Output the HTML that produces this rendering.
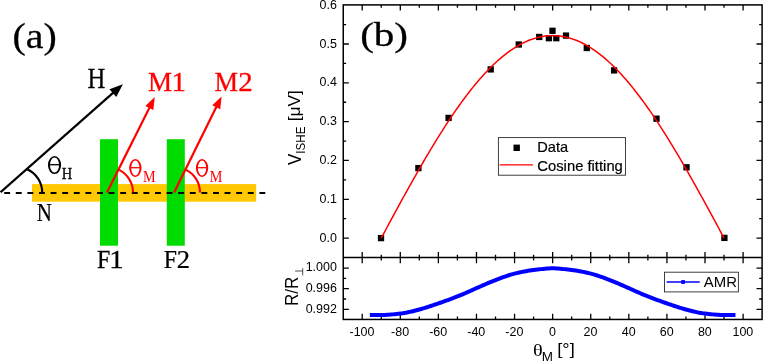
<!DOCTYPE html>
<html><head><meta charset="utf-8"><title>figure</title>
<style>html,body{margin:0;padding:0;background:#fff;}body{width:763px;height:361px;overflow:hidden;}svg{display:block;will-change:transform;}.s{font-family:"Liberation Sans",sans-serif;}.r{font-family:"Liberation Serif",serif;}</style></head><body>
<svg width="763" height="361" viewBox="0 0 763 361">
<rect x="0" y="0" width="763" height="361" fill="#fff"/>
<g id="pa">
<rect x="32" y="184.1" width="224.2" height="17.6" fill="#FFC800"/>
<rect x="100" y="139.2" width="18" height="106.5" fill="#00DC00"/>
<rect x="166.8" y="139.2" width="18" height="106.5" fill="#00DC00"/>
<line x1="4.2" y1="193.0" x2="265.4" y2="193.0" stroke="#000" stroke-width="2" stroke-dasharray="5.9 5.7"/>
<line x1="0.60" y1="192.10" x2="113.60" y2="92.40" stroke="#000" stroke-width="2.2"/><polygon points="122.90,84.20 116.26,96.93 109.44,89.20" fill="#000"/>
<line x1="107.00" y1="192.50" x2="149.78" y2="107.03" stroke="#FF0000" stroke-width="2.2"/><polygon points="154.75,97.10 153.31,109.91 145.35,105.93" fill="#FF0000"/>
<line x1="174.10" y1="192.50" x2="216.68" y2="106.35" stroke="#FF0000" stroke-width="2.2"/><polygon points="221.60,96.40 220.23,109.22 212.25,105.28" fill="#FF0000"/>
<path d="M42.20,192.50 A25.4,25.4 0 0 0 27.13,169.30" fill="none" stroke="#000" stroke-width="2.1"/>
<path d="M133.00,192.50 A25.4,25.4 0 0 0 119.13,169.87" fill="none" stroke="#FF0000" stroke-width="2.2"/>
<path d="M200.00,192.50 A25.4,25.4 0 0 0 186.13,169.87" fill="none" stroke="#FF0000" stroke-width="2.2"/>
<text class="r" transform="translate(12.50,47.56) scale(1.090,1)" font-size="36.61" fill="#000"  stroke="#000" stroke-width="0.3">(a)</text>
<text class="r" transform="translate(87.41,87.97) scale(0.860,1)" font-size="28.79" fill="#000"  stroke="#000" stroke-width="0.25">H</text>
<text class="r" transform="translate(147.97,91.45) scale(0.985,1)" font-size="27.49" fill="#FF0000"  stroke="#FF0000" stroke-width="0.3">M</text>
<text class="r" transform="translate(171.40,91.45) scale(1.063,1)" font-size="27.27" fill="#FF0000"  stroke="#FF0000" stroke-width="0.3">1</text>
<text class="r" transform="translate(214.59,91.45) scale(0.963,1)" font-size="27.49" fill="#FF0000"  stroke="#FF0000" stroke-width="0.3">M</text>
<text class="r" transform="translate(238.28,91.45) scale(1.064,1)" font-size="27.19" fill="#FF0000"  stroke="#FF0000" stroke-width="0.3">2</text>
<text class="r" transform="translate(36.72,220.68) scale(0.819,1)" font-size="25.58" fill="#000"  stroke="#000" stroke-width="0.25">N</text>
<text class="r" transform="translate(96.94,267.68) scale(0.952,1)" font-size="25.12" fill="#000"  stroke="#000" stroke-width="0.25">F</text>
<text class="r" transform="translate(109.19,267.68) scale(1.157,1)" font-size="24.92" fill="#000"  stroke="#000" stroke-width="0.25">1</text>
<text class="r" transform="translate(163.74,267.68) scale(0.944,1)" font-size="25.12" fill="#000"  stroke="#000" stroke-width="0.25">F</text>
<text class="r" transform="translate(176.86,267.68) scale(1.069,1)" font-size="24.84" fill="#000"  stroke="#000" stroke-width="0.25">2</text>
<path d="M47.95,165.03A6.57,9.03 0 1 0 61.10,165.03A6.57,9.03 0 1 0 47.95,165.03ZM49.95,165.03A4.57,7.53 0 1 1 59.10,165.03A4.57,7.53 0 1 1 49.95,165.03Z" fill="#000" fill-rule="evenodd"/><rect x="49.65" y="164.07" width="9.75" height="1.30" fill="#000"/>
<text class="r" transform="translate(61.81,178.78) scale(0.853,1)" font-size="17.03" fill="#000"  stroke="#000" stroke-width="0.25">H</text>
<path d="M129.20,168.00A6.15,9.00 0 1 0 141.50,168.00A6.15,9.00 0 1 0 129.20,168.00ZM131.20,168.00A4.15,7.50 0 1 1 139.50,168.00A4.15,7.50 0 1 1 131.20,168.00Z" fill="#FF0000" fill-rule="evenodd"/><rect x="130.90" y="167.05" width="8.90" height="1.30" fill="#FF0000"/>
<text class="r" transform="translate(142.89,181.60) scale(0.816,1)" font-size="17.41" fill="#FF0000" >M</text>
<path d="M195.90,168.00A6.15,9.00 0 1 0 208.20,168.00A6.15,9.00 0 1 0 195.90,168.00ZM197.90,168.00A4.15,7.50 0 1 1 206.20,168.00A4.15,7.50 0 1 1 197.90,168.00Z" fill="#FF0000" fill-rule="evenodd"/><rect x="197.60" y="167.05" width="8.90" height="1.30" fill="#FF0000"/>
<text class="r" transform="translate(209.74,181.60) scale(0.816,1)" font-size="17.41" fill="#FF0000" >M</text>
</g>
<g id="pb">
<text class="r" transform="translate(360.14,45.70) scale(1.190,1)" font-size="34.52" fill="#000"  stroke="#000" stroke-width="0.3">(b)</text>
<g stroke="#000" fill="none">
<rect x="343.25" y="4.9" width="418.85" height="314.55" stroke-width="1.5"/>
<line x1="343.25" y1="257.55" x2="762.1" y2="257.55" stroke-width="1.5"/>
<path d="M362.20,4.9v5.6M362.20,251.95000000000002v11.2M362.20,319.45v-5.6M381.25,4.9v2.9M381.25,254.65v5.8M381.25,319.45v-2.9M400.29,4.9v5.6M400.29,251.95000000000002v11.2M400.29,319.45v-5.6M419.33,4.9v2.9M419.33,254.65v5.8M419.33,319.45v-2.9M438.38,4.9v5.6M438.38,251.95000000000002v11.2M438.38,319.45v-5.6M457.42,4.9v2.9M457.42,254.65v5.8M457.42,319.45v-2.9M476.47,4.9v5.6M476.47,251.95000000000002v11.2M476.47,319.45v-5.6M495.51,4.9v2.9M495.51,254.65v5.8M495.51,319.45v-2.9M514.56,4.9v5.6M514.56,251.95000000000002v11.2M514.56,319.45v-5.6M533.61,4.9v2.9M533.61,254.65v5.8M533.61,319.45v-2.9M552.65,4.9v5.6M552.65,251.95000000000002v11.2M552.65,319.45v-5.6M571.69,4.9v2.9M571.69,254.65v5.8M571.69,319.45v-2.9M590.74,4.9v5.6M590.74,251.95000000000002v11.2M590.74,319.45v-5.6M609.78,4.9v2.9M609.78,254.65v5.8M609.78,319.45v-2.9M628.83,4.9v5.6M628.83,251.95000000000002v11.2M628.83,319.45v-5.6M647.88,4.9v2.9M647.88,254.65v5.8M647.88,319.45v-2.9M666.92,4.9v5.6M666.92,251.95000000000002v11.2M666.92,319.45v-5.6M685.96,4.9v2.9M685.96,254.65v5.8M685.96,319.45v-2.9M705.01,4.9v5.6M705.01,251.95000000000002v11.2M705.01,319.45v-5.6M724.05,4.9v2.9M724.05,254.65v5.8M724.05,319.45v-2.9M743.10,4.9v5.6M743.10,251.95000000000002v11.2M743.10,319.45v-5.6M343.25,238.10h5.6M762.1,238.10h-5.6M343.25,218.69h2.9M762.1,218.69h-2.9M343.25,199.28h5.6M762.1,199.28h-5.6M343.25,179.87h2.9M762.1,179.87h-2.9M343.25,160.46h5.6M762.1,160.46h-5.6M343.25,141.05h2.9M762.1,141.05h-2.9M343.25,121.64h5.6M762.1,121.64h-5.6M343.25,102.23h2.9M762.1,102.23h-2.9M343.25,82.82h5.6M762.1,82.82h-5.6M343.25,63.41h2.9M762.1,63.41h-2.9M343.25,44.00h5.6M762.1,44.00h-5.6M343.25,24.59h2.9M762.1,24.59h-2.9M343.25,309.30h5.6M762.1,309.30h-5.6M343.25,299.00h2.9M762.1,299.00h-2.9M343.25,288.70h5.6M762.1,288.70h-5.6M343.25,278.40h2.9M762.1,278.40h-2.9M343.25,268.10h5.6M762.1,268.10h-5.6" stroke-width="1.3"/>
</g>
<rect x="377.85" y="234.95" width="6.3" height="6.3" fill="#000"/>
<rect x="415.25" y="164.95" width="6.3" height="6.3" fill="#000"/>
<rect x="445.45" y="114.75" width="6.3" height="6.3" fill="#000"/>
<rect x="487.55" y="66.25" width="6.3" height="6.3" fill="#000"/>
<rect x="515.60" y="41.35" width="6.3" height="6.3" fill="#000"/>
<rect x="536.05" y="33.80" width="6.3" height="6.3" fill="#000"/>
<rect x="545.75" y="35.05" width="6.3" height="6.3" fill="#000"/>
<rect x="549.35" y="27.65" width="6.3" height="6.3" fill="#000"/>
<rect x="553.15" y="35.05" width="6.3" height="6.3" fill="#000"/>
<rect x="562.85" y="32.45" width="6.3" height="6.3" fill="#000"/>
<rect x="583.65" y="44.85" width="6.3" height="6.3" fill="#000"/>
<rect x="610.95" y="67.25" width="6.3" height="6.3" fill="#000"/>
<rect x="653.35" y="115.55" width="6.3" height="6.3" fill="#000"/>
<rect x="683.35" y="164.15" width="6.3" height="6.3" fill="#000"/>
<rect x="721.25" y="234.75" width="6.3" height="6.3" fill="#000"/>
<polyline points="381.25,238.10 383.15,234.57 385.05,231.03 386.96,227.50 388.86,223.98 390.77,220.45 392.67,216.93 394.58,213.42 396.48,209.92 398.39,206.42 400.29,202.94 402.19,199.46 404.10,196.00 406.00,192.55 407.91,189.11 409.81,185.69 411.72,182.29 413.62,178.90 415.53,175.53 417.43,172.18 419.33,168.85 421.24,165.54 423.14,162.25 425.05,158.98 426.95,155.74 428.86,152.53 430.76,149.34 432.67,146.17 434.57,143.04 436.48,139.93 438.38,136.86 440.28,133.81 442.19,130.80 444.09,127.82 446.00,124.87 447.90,121.96 449.81,119.08 451.71,116.24 453.62,113.44 455.52,110.67 457.42,107.95 459.33,105.26 461.23,102.61 463.14,100.01 465.04,97.44 466.95,94.92 468.85,92.44 470.76,90.01 472.66,87.62 474.57,85.28 476.47,82.99 478.37,80.74 480.28,78.54 482.18,76.39 484.09,74.29 485.99,72.23 487.90,70.23 489.80,68.28 491.71,66.38 493.61,64.54 495.51,62.74 497.42,61.00 499.32,59.32 501.23,57.68 503.13,56.11 505.04,54.59 506.94,53.12 508.85,51.71 510.75,50.36 512.66,49.06 514.56,47.83 516.46,46.65 518.37,45.53 520.27,44.46 522.18,43.46 524.08,42.51 525.99,41.63 527.89,40.80 529.80,40.04 531.70,39.34 533.61,38.69 535.51,38.11 537.41,37.59 539.32,37.12 541.22,36.72 543.13,36.39 545.03,36.11 546.94,35.89 548.84,35.74 550.75,35.65 552.65,35.61 554.55,35.65 556.46,35.74 558.36,35.89 560.27,36.11 562.17,36.39 564.08,36.72 565.98,37.12 567.89,37.59 569.79,38.11 571.69,38.69 573.60,39.34 575.50,40.04 577.41,40.80 579.31,41.63 581.22,42.51 583.12,43.46 585.03,44.46 586.93,45.53 588.84,46.65 590.74,47.83 592.64,49.06 594.55,50.36 596.45,51.71 598.36,53.12 600.26,54.59 602.17,56.11 604.07,57.68 605.98,59.32 607.88,61.00 609.78,62.74 611.69,64.54 613.59,66.38 615.50,68.28 617.40,70.23 619.31,72.23 621.21,74.29 623.12,76.39 625.02,78.54 626.93,80.74 628.83,82.99 630.73,85.28 632.64,87.62 634.54,90.01 636.45,92.44 638.35,94.92 640.26,97.44 642.16,100.01 644.07,102.61 645.97,105.26 647.88,107.95 649.78,110.67 651.68,113.44 653.59,116.24 655.49,119.08 657.40,121.96 659.30,124.87 661.21,127.82 663.11,130.80 665.02,133.81 666.92,136.86 668.82,139.93 670.73,143.04 672.63,146.17 674.54,149.34 676.44,152.53 678.35,155.74 680.25,158.98 682.16,162.25 684.06,165.54 685.96,168.85 687.87,172.18 689.77,175.53 691.68,178.90 693.58,182.29 695.49,185.69 697.39,189.11 699.30,192.55 701.20,196.00 703.11,199.46 705.01,202.94 706.91,206.42 708.82,209.92 710.72,213.42 712.63,216.93 714.53,220.45 716.44,223.98 718.34,227.50 720.25,231.03 722.15,234.57 724.05,238.10" fill="none" stroke="#FF0000" stroke-width="1.5" stroke-linejoin="round"/>
<polyline points="369.82,315.10 371.72,315.10 373.63,315.09 375.53,315.07 377.44,315.05 379.34,315.03 381.25,315.00 383.15,314.96 385.05,314.89 386.96,314.79 388.86,314.67 390.77,314.53 392.67,314.37 394.58,314.19 396.48,314.00 398.39,313.81 400.29,313.60 402.19,313.36 404.10,313.06 406.00,312.72 407.91,312.33 409.81,311.90 411.72,311.45 413.62,310.97 415.53,310.49 417.43,309.99 419.33,309.50 421.24,308.99 423.14,308.45 425.05,307.87 426.95,307.27 428.86,306.65 430.76,306.01 432.67,305.36 434.57,304.71 436.48,304.05 438.38,303.40 440.28,302.75 442.19,302.09 444.09,301.42 446.00,300.74 447.90,300.06 449.81,299.36 451.71,298.65 453.62,297.93 455.52,297.20 457.42,296.45 459.33,295.68 461.23,294.89 463.14,294.07 465.04,293.24 466.95,292.40 468.85,291.56 470.76,290.71 472.66,289.86 474.57,289.03 476.47,288.20 478.37,287.38 480.28,286.54 482.18,285.70 484.09,284.86 485.99,284.03 487.90,283.21 489.80,282.39 491.71,281.60 493.61,280.84 495.51,280.10 497.42,279.38 499.32,278.65 501.23,277.93 503.13,277.22 505.04,276.53 506.94,275.86 508.85,275.23 510.75,274.64 512.66,274.09 514.56,273.60 516.46,273.15 518.37,272.71 520.27,272.29 522.18,271.89 524.08,271.52 525.99,271.16 527.89,270.83 529.80,270.53 531.70,270.25 533.61,270.00 535.51,269.77 537.41,269.54 539.32,269.33 541.22,269.12 543.13,268.93 545.03,268.76 546.94,268.60 548.84,268.46 550.75,268.34 552.65,268.25 554.55,268.34 556.46,268.46 558.36,268.60 560.27,268.76 562.17,268.93 564.08,269.12 565.98,269.33 567.89,269.54 569.79,269.77 571.69,270.00 573.60,270.25 575.50,270.53 577.41,270.83 579.31,271.16 581.22,271.52 583.12,271.89 585.03,272.29 586.93,272.71 588.84,273.15 590.74,273.60 592.64,274.09 594.55,274.64 596.45,275.23 598.36,275.86 600.26,276.53 602.17,277.22 604.07,277.93 605.98,278.65 607.88,279.38 609.78,280.10 611.69,280.84 613.59,281.60 615.50,282.39 617.40,283.21 619.31,284.03 621.21,284.86 623.12,285.70 625.02,286.54 626.93,287.38 628.83,288.20 630.73,289.03 632.64,289.86 634.54,290.71 636.45,291.56 638.35,292.40 640.26,293.24 642.16,294.07 644.07,294.89 645.97,295.68 647.88,296.45 649.78,297.20 651.68,297.93 653.59,298.65 655.49,299.36 657.40,300.06 659.30,300.74 661.21,301.42 663.11,302.09 665.02,302.75 666.92,303.40 668.82,304.05 670.73,304.71 672.63,305.36 674.54,306.01 676.44,306.65 678.35,307.27 680.25,307.87 682.16,308.45 684.06,308.99 685.96,309.50 687.87,309.99 689.77,310.49 691.68,310.97 693.58,311.45 695.49,311.90 697.39,312.33 699.30,312.72 701.20,313.06 703.11,313.36 705.01,313.60 706.91,313.81 708.82,314.00 710.72,314.19 712.63,314.37 714.53,314.53 716.44,314.67 718.34,314.79 720.25,314.89 722.15,314.96 724.05,315.00 725.96,315.03 727.86,315.05 729.77,315.07 731.67,315.09 733.58,315.10 735.48,315.10" fill="none" stroke="#0000FF" stroke-width="4.0" stroke-linejoin="round"/>
<text class="s" transform="translate(336.90,241.60) scale(1.04,1)" font-size="12.0" fill="#000" text-anchor="end" >0.0</text>
<text class="s" transform="translate(336.90,202.78) scale(1.04,1)" font-size="12.0" fill="#000" text-anchor="end" >0.1</text>
<text class="s" transform="translate(336.90,163.96) scale(1.04,1)" font-size="12.0" fill="#000" text-anchor="end" >0.2</text>
<text class="s" transform="translate(336.90,125.14) scale(1.04,1)" font-size="12.0" fill="#000" text-anchor="end" >0.3</text>
<text class="s" transform="translate(336.90,86.32) scale(1.04,1)" font-size="12.0" fill="#000" text-anchor="end" >0.4</text>
<text class="s" transform="translate(336.90,47.50) scale(1.04,1)" font-size="12.0" fill="#000" text-anchor="end" >0.5</text>
<text class="s" transform="translate(336.90,8.68) scale(1.04,1)" font-size="12.0" fill="#000" text-anchor="end" >0.6</text>
<text class="s" transform="translate(336.90,271.45) scale(1.04,1)" font-size="12.0" fill="#000" text-anchor="end" >1.000</text>
<text class="s" transform="translate(336.90,292.05) scale(1.04,1)" font-size="12.0" fill="#000" text-anchor="end" >0.996</text>
<text class="s" transform="translate(336.90,312.65) scale(1.04,1)" font-size="12.0" fill="#000" text-anchor="end" >0.992</text>
<text class="s" transform="translate(362.00,335.50) scale(1.04,1)" font-size="12.0" fill="#000" text-anchor="middle" >-100</text>
<text class="s" transform="translate(400.09,335.50) scale(1.04,1)" font-size="12.0" fill="#000" text-anchor="middle" >-80</text>
<text class="s" transform="translate(438.18,335.50) scale(1.04,1)" font-size="12.0" fill="#000" text-anchor="middle" >-60</text>
<text class="s" transform="translate(476.27,335.50) scale(1.04,1)" font-size="12.0" fill="#000" text-anchor="middle" >-40</text>
<text class="s" transform="translate(514.36,335.50) scale(1.04,1)" font-size="12.0" fill="#000" text-anchor="middle" >-20</text>
<text class="s" transform="translate(552.45,335.50) scale(1.04,1)" font-size="12.0" fill="#000" text-anchor="middle" >0</text>
<text class="s" transform="translate(590.54,335.50) scale(1.04,1)" font-size="12.0" fill="#000" text-anchor="middle" >20</text>
<text class="s" transform="translate(628.63,335.50) scale(1.04,1)" font-size="12.0" fill="#000" text-anchor="middle" >40</text>
<text class="s" transform="translate(666.72,335.50) scale(1.04,1)" font-size="12.0" fill="#000" text-anchor="middle" >60</text>
<text class="s" transform="translate(704.81,335.50) scale(1.04,1)" font-size="12.0" fill="#000" text-anchor="middle" >80</text>
<text class="s" transform="translate(742.90,335.50) scale(1.04,1)" font-size="12.0" fill="#000" text-anchor="middle" >100</text>
<rect x="498.4" y="137.6" width="127.1" height="37.6" fill="#fff" stroke="#2a2a2a" stroke-width="0.9"/>
<rect x="513.5" y="144.60000000000002" width="6.4" height="6.4" fill="#000"/>
<line x1="499.6" y1="164.9" x2="532.9" y2="164.9" stroke="#FF0000" stroke-width="1.3"/>
<text class="s" transform="translate(537.30,152.40) scale(1.0,1)" font-size="14.6" fill="#000" text-anchor="start" stroke="#000" stroke-width="0.2">Data</text>
<text class="s" transform="translate(537.30,170.60) scale(1.015,1)" font-size="14.6" fill="#000" text-anchor="start" stroke="#000" stroke-width="0.2">Cosine fitting</text>
<rect x="664.5" y="272.2" width="73.9" height="19.7" fill="#fff" stroke="#2a2a2a" stroke-width="0.9"/>
<line x1="666.6" y1="282.0" x2="699.8" y2="282.0" stroke="#0000FF" stroke-width="1.4"/>
<rect x="681.2" y="280.1" width="3.8" height="3.8" fill="#0000FF"/>
<text class="s" transform="translate(703.80,287.00) scale(1.03,1)" font-size="14.5" fill="#000" text-anchor="start" >AMR</text>
<text class="r" transform="translate(533.05,355.83) scale(1.150,1)" font-size="17.63" fill="#000" >θ</text>
<text class="s" transform="translate(541.80,360.70) scale(1.129,1)" font-size="11.92" fill="#000" >M</text>
<text class="s" transform="translate(557.25,355.39) scale(1.113,1)" font-size="16.41" fill="#000" >[°]</text>
<text class="s" transform="translate(301.00,165.07) rotate(-90) scale(1,1.110)" font-size="17.02" fill="#000" >V</text>
<text class="s" transform="translate(305.08,153.67) rotate(-90) scale(1,1.072)" font-size="11.60" fill="#000" >ISHE</text>
<text class="s" transform="translate(300.44,121.24) rotate(-90) scale(1,0.991)" font-size="17.33" fill="#000" >[μV]</text>
<text class="s" transform="translate(297.83,306.10) rotate(-90) scale(1,1.037)" font-size="17.07" fill="#000" >R/R</text>
<path d="M302.7,268.3V275.4M295.1,271.0H302.7" stroke="#222" stroke-width="0.8" fill="none"/>
</g>
</svg></body></html>
